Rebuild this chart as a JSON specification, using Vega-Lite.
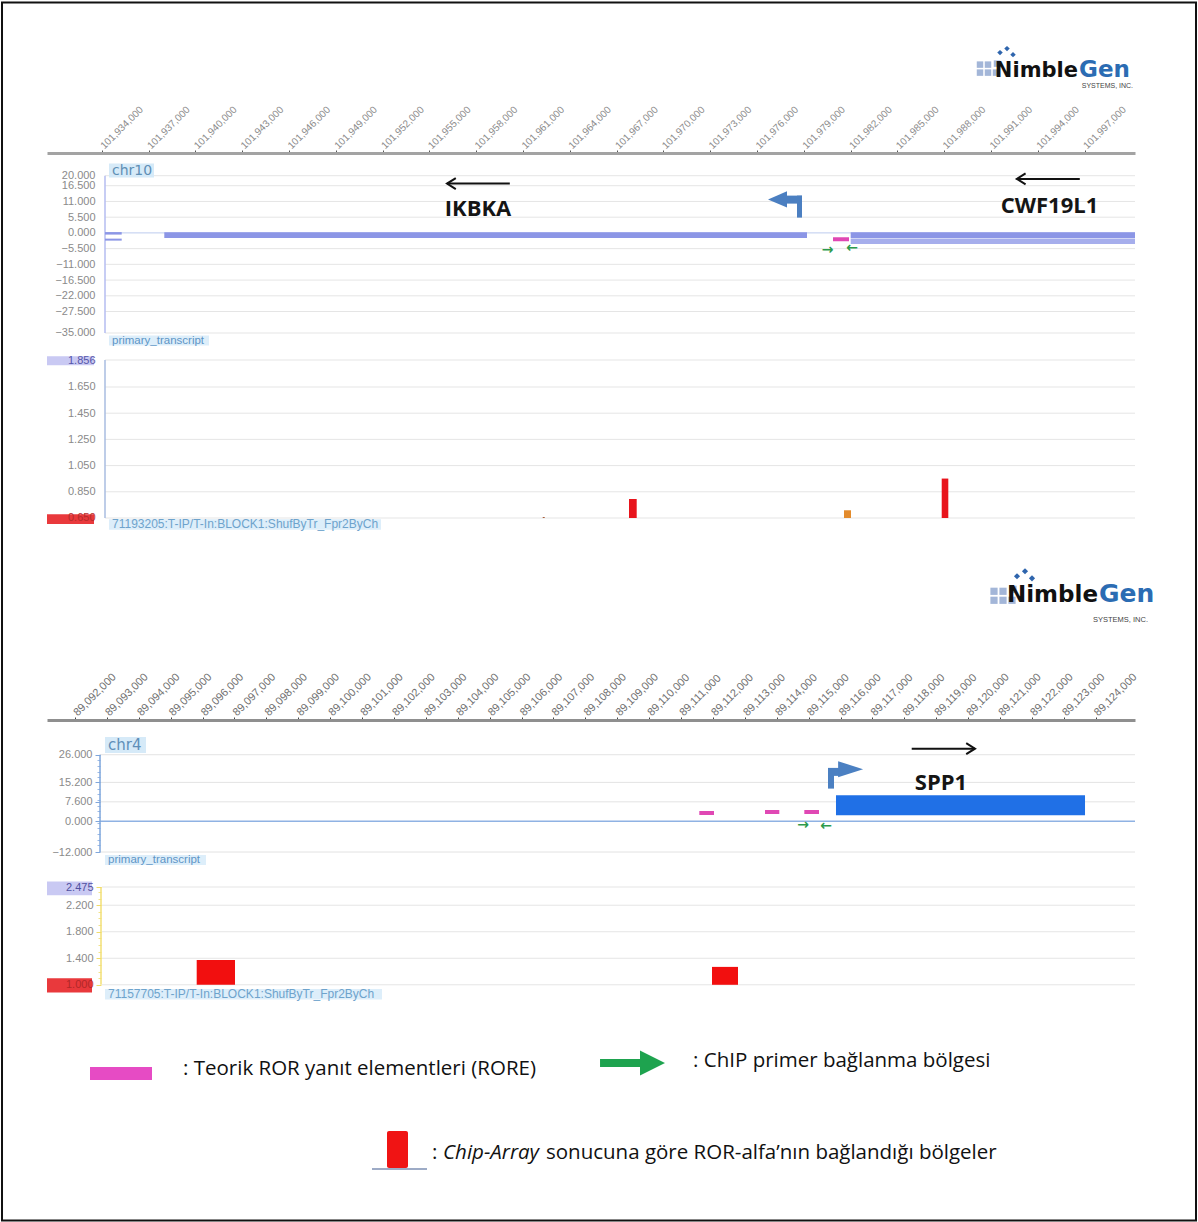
{
  "$schema": "https://vega.github.io/schema/vega-lite/v6.json",
  "padding": 1,
  "background": "white",
  "spacing": 0,
  "bounds": "flush",
  "data": {"values": [{}]},
  "config": {"view": {"stroke": null}, "axis": {"labelFont": "Liberation Sans", "labelOverlap": false}, "text": {"font": "Liberation Sans"}},
  "resolve": {"scale": {"x": "independent", "y": "independent", "color": "independent"}},
  "datasets": {
    "topGrid": [{"v": 20}, {"v": 16.5}, {"v": 11}, {"v": 5.5}, {"v": 0}, {"v": -5.5}, {"v": -11}, {"v": -16.5}, {"v": -22}, {"v": -27.5}, {"v": -35}],
    "topGenes": [
      {"feature": "exon a", "start": 101934205, "end": 101935276, "top": 0.28, "bottom": -0.59, "kind": "transcript"},
      {"feature": "exon b", "start": 101934205, "end": 101935276, "top": -2.0, "bottom": -2.7, "kind": "transcript"},
      {"feature": "IKBKA", "start": 101938006, "end": 101979203, "top": 0.21, "bottom": -1.75, "kind": "transcript"},
      {"feature": "CWF19L1", "start": 101982004, "end": 102000228, "top": 0.21, "bottom": -1.75, "kind": "transcript"},
      {"feature": "CWF19L1 b", "start": 101982004, "end": 102000228, "top": -1.95, "bottom": -3.85, "kind": "transcript2"},
      {"feature": "RORE", "start": 101980870, "end": 101981896, "top": -1.5, "bottom": -2.9, "kind": "RORE"}
    ],
    "topPrimers": [{"pos": 101980517, "v": -6.1, "dir": "→"}, {"pos": 101982088, "v": -5.4, "dir": "←"}],
    "topNames": [{"name": "IKBKA", "pos": 101958115, "v": 8.5}, {"name": "CWF19L1", "pos": 101994748, "v": 9.55}],
    "topDir": [{"gene": "IKBKA", "tip": 101956127, "tail": 101960153, "v": 17.24}, {"gene": "CWF19L1", "tip": 101992650, "tail": 101996689, "v": 18.88}],
    "logoTop": [
      {"g": 101990293, "v": 58.85, "part": "square"}, {"g": 101990805, "v": 58.85, "part": "square"},
      {"g": 101990293, "v": 56.05, "part": "square"}, {"g": 101990805, "v": 56.05, "part": "square"},
      {"g": 101991318, "v": 56.05, "part": "square"}, {"g": 101991382, "v": 59.2, "part": "square"},
      {"g": 101991575, "v": 63.04, "part": "dot"}, {"g": 101992023, "v": 64.44, "part": "dot"}, {"g": 101992408, "v": 62.34, "part": "dot"}
    ],
    "topSignalGrid": [{"v": 1.856}, {"v": 1.65}, {"v": 1.45}, {"v": 1.25}, {"v": 1.05}, {"v": 0.85}, {"v": 0.65}],
    "topSignal": [
      {"start": 101962262, "end": 101962390, "value": 0.657, "kind": "weak"},
      {"start": 101967794, "end": 101968287, "value": 0.795, "kind": "bound"},
      {"start": 101981575, "end": 101982024, "value": 0.709, "kind": "moderate"},
      {"start": 101987838, "end": 101988261, "value": 0.951, "kind": "bound"}
    ],
    "logoBot": [
      {"g": 101991190, "v": 0.0905, "part": "square"}, {"g": 101991767, "v": 0.0905, "part": "square"},
      {"g": 101991190, "v": 0.0218, "part": "square"}, {"g": 101991767, "v": 0.0218, "part": "square"},
      {"g": 101992344, "v": 0.0218, "part": "square"}, {"g": 101992408, "v": 0.1057, "part": "square"},
      {"g": 101992664, "v": 0.205, "part": "dot"}, {"g": 101993177, "v": 0.2435, "part": "dot"}, {"g": 101993626, "v": 0.1897, "part": "dot"}
    ],
    "botGrid": [{"v": 26}, {"v": 15.2}, {"v": 7.6}, {"v": 0}, {"v": -12}],
    "botGenes": [
      {"feature": "RORE 1", "start": 89111572, "end": 89112033, "top": 4.02, "bottom": 2.46, "kind": "RORE"},
      {"feature": "RORE 2", "start": 89113632, "end": 89114080, "top": 4.41, "bottom": 2.85, "kind": "RORE"},
      {"feature": "RORE 3", "start": 89114864, "end": 89115324, "top": 4.41, "bottom": 2.85, "kind": "RORE"},
      {"feature": "SPP1", "start": 89115857, "end": 89123664, "top": 10.16, "bottom": 2.34, "kind": "transcript"}
    ],
    "botPrimers": [{"pos": 89114823, "v": -1.56, "dir": "→"}, {"pos": 89115544, "v": -1.95, "dir": "←"}],
    "botNames": [{"name": "SPP1", "pos": 89119149, "v": 14.96}],
    "botDir": [{"gene": "SPP1", "tip": 89120215, "tail": 89118231, "v": 28.36}],
    "botSignalGrid": [{"v": 2.475}, {"v": 2.2}, {"v": 1.8}, {"v": 1.4}, {"v": 1.0}],
    "botSignal": [{"start": 89095815, "end": 89097016, "value": 1.373}, {"start": 89111970, "end": 89112785, "value": 1.27}]
  },
  "vconcat": [
    {
      "width": 1088,
      "height": 206.3,
      "layer": [
        {
          "data": {"name": "topGrid"},
          "mark": {"type": "rule"},
          "encoding": {
            "x": {"datum": 101934205, "type": "quantitative", "scale": {"domain": [101930487, 102000228], "nice": false, "zero": false},
              "axis": {"orient": "top", "tickCount": 200, "values": [101934000, 101937000, 101940000, 101943000, 101946000, 101949000, 101952000, 101955000, 101958000, 101961000, 101964000, 101967000, 101970000, 101973000, 101976000, 101979000, 101982000, 101985000, 101988000, 101991000, 101994000, 101997000],
                "format": ",d", "labelAngle": -45, "labelAlign": "left", "labelBaseline": "middle", "labelFontSize": 10, "labelColor": "#8c8c8c", "labelPadding": 3, "tickSize": 3, "tickColor": "#555555", "domainColor": "#a3a3a3", "domainWidth": 3, "grid": false, "title": null, "labelOverlap": false, "labelFlush": false, "labelBound": false}},
            "x2": {"datum": 102000228},
            "y": {"field": "v", "type": "quantitative", "scale": {"domain": [-44.2, 27.94], "nice": false, "zero": false},
              "axis": {"orient": "left", "offset": -58, "tickCount": 200, "values": [20, 16.5, 11, 5.5, 0, -5.5, -11, -16.5, -22, -27.5, -35], "format": ".3f", "domain": false, "ticks": false, "tickSize": 0, "labelPadding": 10, "labelFontSize": 11, "labelColor": "#8a8a8a", "grid": false, "title": null, "zindex": 1, "labelOverlap": false}},
            "color": {"condition": {"test": "datum.v === 0", "value": "#bccbee"}, "value": "#e5e5e5"}
          }
        },
        {"mark": {"type": "rule", "color": "#b5bcf0", "strokeWidth": 1.5}, "encoding": {"x": {"datum": 101934205}, "y": {"datum": 20}, "y2": {"datum": -35}}},
        {"mark": {"type": "rect", "color": "#d6eaf8"}, "encoding": {"x": {"datum": 101934462}, "x2": {"datum": 101937346}, "y": {"datum": 24.23}, "y2": {"datum": 19.34}}},
        {"mark": {"type": "text", "text": "chr10", "align": "left", "baseline": "middle", "font": "DejaVu Sans", "fontSize": 14, "color": "#5f8fb5"}, "encoding": {"x": {"datum": 101934654}, "y": {"datum": 21.78}}},
        {"mark": {"type": "rect", "color": "#ddeefa"}, "encoding": {"x": {"datum": 101934462}, "x2": {"datum": 101940872}, "y": {"datum": -35.91}, "y2": {"datum": -39.41}}},
        {"mark": {"type": "text", "text": "primary_transcript", "align": "left", "baseline": "middle", "fontSize": 11.5, "color": "#5d95c6"}, "encoding": {"x": {"datum": 101934654}, "y": {"datum": -37.66}}},
        {
          "data": {"name": "topGenes"},
          "mark": {"type": "rect"},
          "encoding": {
            "x": {"field": "start", "type": "quantitative"}, "x2": {"field": "end"},
            "y": {"field": "top", "type": "quantitative"}, "y2": {"field": "bottom"},
            "color": {"field": "kind", "type": "nominal", "scale": {"domain": ["transcript", "transcript2", "RORE"], "range": ["#8c96e6", "#a6aeec", "#e048b4"]}, "legend": null}
          }
        },
        {
          "data": {"name": "topPrimers"},
          "mark": {"type": "text", "font": "DejaVu Sans", "fontSize": 14, "fontWeight": "bold", "color": "#2c9a4c", "align": "center", "baseline": "middle"},
          "encoding": {"x": {"field": "pos", "type": "quantitative"}, "y": {"field": "v", "type": "quantitative"}, "text": {"field": "dir"}}
        },
        {"mark": {"type": "rule", "color": "#4b7fc1", "strokeWidth": 8}, "encoding": {"x": {"datum": 101977793}, "x2": {"datum": 101978883}, "y": {"datum": 11.64}}},
        {"mark": {"type": "rule", "color": "#4b7fc1", "strokeWidth": 5}, "encoding": {"x": {"datum": 101978723}, "y": {"datum": 13.04}, "y2": {"datum": 5.35}}},
        {"mark": {"type": "point", "shape": "M1,-0.85L-1,0L1,0.85Z", "size": 361, "filled": true, "opacity": 1, "color": "#4b7fc1"}, "encoding": {"x": {"datum": 101977312}, "y": {"datum": 11.7}}},
        {
          "data": {"name": "topNames"},
          "mark": {"type": "text", "font": "Open Sans", "fontSize": 22, "fontWeight": "bold", "color": "#151515", "align": "center", "baseline": "middle"},
          "encoding": {"x": {"field": "pos", "type": "quantitative"}, "y": {"field": "v", "type": "quantitative"}, "text": {"field": "name"}}
        },
        {
          "data": {"name": "topDir"},
          "mark": {"type": "rule", "strokeWidth": 2, "color": "#111111"},
          "encoding": {"x": {"field": "tip", "type": "quantitative"}, "x2": {"field": "tail"}, "y": {"field": "v", "type": "quantitative"}}
        },
        {
          "data": {"name": "topDir"},
          "mark": {"type": "point", "shape": "M1.6,-1L0,0L1.6,1", "size": 121, "filled": false, "strokeWidth": 2, "color": "#111111", "opacity": 1},
          "encoding": {"x": {"field": "tip", "type": "quantitative"}, "y": {"field": "v", "type": "quantitative"}}
        },
        {
          "data": {"name": "logoTop"},
          "transform": [{"filter": "datum.part === 'square'"}],
          "mark": {"type": "point", "shape": "square", "size": 42, "filled": true, "opacity": 1, "color": "#a3b6d8"},
          "encoding": {"x": {"field": "g", "type": "quantitative"}, "y": {"field": "v", "type": "quantitative"}}
        },
        {
          "data": {"name": "logoTop"},
          "transform": [{"filter": "datum.part === 'dot'"}],
          "mark": {"type": "point", "shape": "diamond", "size": 30, "filled": true, "opacity": 1, "color": "#2f65ad"},
          "encoding": {"x": {"field": "g", "type": "quantitative"}, "y": {"field": "v", "type": "quantitative"}}
        },
        {"mark": {"type": "text", "text": "Nimble", "align": "right", "baseline": "alphabetic", "font": "DejaVu Sans", "fontWeight": "bold", "fontSize": 21, "color": "#111111"}, "encoding": {"x": {"datum": 101996575}, "y": {"datum": 54.65}}},
        {"mark": {"type": "text", "text": "Gen", "align": "left", "baseline": "alphabetic", "font": "DejaVu Sans", "fontWeight": "bold", "fontSize": 23, "color": "#2b6cb3"}, "encoding": {"x": {"datum": 101996639}, "y": {"datum": 54.65}}},
        {"mark": {"type": "text", "text": "SYSTEMS, INC.", "align": "right", "baseline": "middle", "fontSize": 7, "color": "#444444"}, "encoding": {"x": {"datum": 102000104}, "y": {"datum": 51.5}}},
        {"mark": {"type": "rect", "filled": false, "stroke": "#111111", "strokeWidth": 2}, "encoding": {"x": {"datum": 101927603}, "x2": {"datum": 102004138}, "y": {"datum": 80.53}, "y2": {"datum": -345.39}}}
      ]
    },
    {
      "width": 1088,
      "height": 359.3,
      "layer": [
        {
          "data": {"name": "topSignalGrid"},
          "mark": {"type": "rule", "color": "#e5e5e5"},
          "encoding": {
            "x": {"datum": 101934205, "type": "quantitative", "scale": {"domain": [101930487, 102000228], "nice": false, "zero": false}, "axis": null},
            "x2": {"datum": 102000228},
            "y": {"field": "v", "type": "quantitative", "scale": {"domain": [-0.8866, 1.856], "nice": false, "zero": false},
              "axis": {"orient": "left", "offset": -58, "tickCount": 200, "values": [1.856, 1.65, 1.45, 1.25, 1.05, 0.85, 0.65], "format": ".3f", "domain": false, "ticks": false, "tickSize": 0, "labelPadding": 10, "labelFontSize": 11,
                "labelColor": {"condition": [{"test": "datum.value === 1.856", "value": "#5656a8"}, {"test": "datum.value === 0.65", "value": "#b52a2a"}], "value": "#8a8a8a"},
                "grid": false, "title": null, "zindex": 1, "labelOverlap": false}}
          }
        },
        {"mark": {"type": "rule", "color": "#a9bde0", "strokeWidth": 1.5}, "encoding": {"x": {"datum": 101934205}, "y": {"datum": 1.856}, "y2": {"datum": 0.65}}},
        {"mark": {"type": "rect", "color": "#c9c9f3"}, "encoding": {"x": {"datum": 101930487}, "x2": {"datum": 101933500}, "y": {"datum": 1.884}, "y2": {"datum": 1.8157}}},
        {"mark": {"type": "rect", "color": "#e9393c"}, "encoding": {"x": {"datum": 101930487}, "x2": {"datum": 101933500}, "y": {"datum": 0.678}, "y2": {"datum": 0.604}}},
        {
          "data": {"name": "topSignal"},
          "mark": {"type": "rect"},
          "encoding": {
            "x": {"field": "start", "type": "quantitative"}, "x2": {"field": "end"},
            "y": {"field": "value", "type": "quantitative"}, "y2": {"datum": 0.65},
            "color": {"field": "kind", "type": "nominal", "scale": {"domain": ["bound", "moderate", "weak"], "range": ["#e8141c", "#e38b2c", "#a0522d"]}, "legend": null}
          }
        },
        {"mark": {"type": "rect", "color": "#ddeefa"}, "encoding": {"x": {"datum": 101934462}, "x2": {"datum": 101951897}, "y": {"datum": 0.64}, "y2": {"datum": 0.56}}},
        {"mark": {"type": "text", "text": "71193205:T-IP/T-In:BLOCK1:ShufByTr_Fpr2ByCh", "align": "left", "baseline": "middle", "fontSize": 12, "color": "#6ea3cc"}, "encoding": {"x": {"datum": 101934654}, "y": {"datum": 0.602}}},
        {
          "data": {"name": "logoBot"},
          "transform": [{"filter": "datum.part === 'square'"}],
          "mark": {"type": "point", "shape": "square", "size": 52, "filled": true, "opacity": 1, "color": "#a3b6d8"},
          "encoding": {"x": {"field": "g", "type": "quantitative"}, "y": {"field": "v", "type": "quantitative"}}
        },
        {
          "data": {"name": "logoBot"},
          "transform": [{"filter": "datum.part === 'dot'"}],
          "mark": {"type": "point", "shape": "diamond", "size": 38, "filled": true, "opacity": 1, "color": "#2f65ad"},
          "encoding": {"x": {"field": "g", "type": "quantitative"}, "y": {"field": "v", "type": "quantitative"}}
        },
        {"mark": {"type": "text", "text": "Nimble", "align": "right", "baseline": "alphabetic", "font": "DejaVu Sans", "fontWeight": "bold", "fontSize": 23, "color": "#111111"}, "encoding": {"x": {"datum": 101997856}, "y": {"datum": 0.0088}}},
        {"mark": {"type": "text", "text": "Gen", "align": "left", "baseline": "alphabetic", "font": "DejaVu Sans", "fontWeight": "bold", "fontSize": 25, "color": "#2b6cb3"}, "encoding": {"x": {"datum": 101997920}, "y": {"datum": 0.0088}}},
        {"mark": {"type": "text", "text": "SYSTEMS, INC.", "align": "right", "baseline": "middle", "fontSize": 7.5, "color": "#444444"}, "encoding": {"x": {"datum": 102001060}, "y": {"datum": -0.131}}}
      ]
    },
    {
      "width": 1088,
      "height": 166.5,
      "resolve": {"axis": {"y": "independent"}},
      "layer": [
        {
          "data": {"name": "botGrid"},
          "mark": {"type": "rule"},
          "encoding": {
            "x": {"datum": 89092784, "type": "quantitative", "scale": {"domain": [89091122, 89125231], "nice": false, "zero": false},
              "axis": {"orient": "top", "tickCount": 200, "values": [89092000, 89093000, 89094000, 89095000, 89096000, 89097000, 89098000, 89099000, 89100000, 89101000, 89102000, 89103000, 89104000, 89105000, 89106000, 89107000, 89108000, 89109000, 89110000, 89111000, 89112000, 89113000, 89114000, 89115000, 89116000, 89117000, 89118000, 89119000, 89120000, 89121000, 89122000, 89123000, 89124000],
                "format": ",d", "labelAngle": -45, "labelAlign": "left", "labelBaseline": "middle", "labelFontSize": 11, "labelColor": "#707070", "labelPadding": 3, "tickSize": 3, "tickColor": "#444444", "domainColor": "#8f8f8f", "domainWidth": 3, "grid": false, "title": null, "labelOverlap": false, "labelFlush": false, "labelBound": false}},
            "x2": {"datum": 89125231},
            "y": {"field": "v", "type": "quantitative", "scale": {"domain": [-25.47, 39.57], "nice": false, "zero": false},
              "axis": {"orient": "left", "offset": -53, "tickCount": 200, "values": [26, 15.2, 7.6, 0, -12], "format": ".3f", "domain": false, "ticks": true, "tickSize": 5, "tickColor": "#7ea6dc", "labelPadding": 3, "labelFontSize": 11, "labelColor": "#8a8a8a", "grid": false, "title": null, "zindex": 1, "labelOverlap": false}},
            "color": {"condition": {"test": "datum.v === 0", "value": "#8fb2e3"}, "value": "#e3e3e3"},
            "strokeWidth": {"condition": {"test": "datum.v === 0", "value": 1.6}, "value": 1}
          }
        },
        {
          "mark": {"type": "rule", "opacity": 0},
          "encoding": {"y": {"datum": 0, "type": "quantitative",
            "axis": {"orient": "left", "offset": -53, "tickCount": 200, "values": [23.79, 21.57, 19.36, 17.14, 12.71, 10.5, 8.28, 6.07, 3.85, 1.64, -0.58, -2.8, -5.01, -7.23, -9.44], "labels": false, "domain": false, "ticks": true, "tickSize": 3, "tickColor": "#9dbbe6", "grid": false, "title": null}}}
        },
        {"mark": {"type": "rule", "color": "#7ea6dc", "strokeWidth": 1.5}, "encoding": {"x": {"datum": 89092784}, "y": {"datum": 26, "axis": null}, "y2": {"datum": -12}}},
        {"mark": {"type": "rect", "color": "#d6eaf8"}, "encoding": {"x": {"datum": 89092941}, "x2": {"datum": 89094226}, "y": {"datum": 32.93, "axis": null}, "y2": {"datum": 26.68}}},
        {"mark": {"type": "text", "text": "chr4", "align": "left", "baseline": "middle", "font": "DejaVu Sans", "fontSize": 15, "color": "#5f8fb8"}, "encoding": {"x": {"datum": 89093035}, "y": {"datum": 29.8, "axis": null}}},
        {"mark": {"type": "rect", "color": "#ddeefa"}, "encoding": {"x": {"datum": 89092941}, "x2": {"datum": 89096107}, "y": {"datum": -13.2, "axis": null}, "y2": {"datum": -17.1}}},
        {"mark": {"type": "text", "text": "primary_transcript", "align": "left", "baseline": "middle", "fontSize": 11.5, "color": "#5d95c6"}, "encoding": {"x": {"datum": 89093035}, "y": {"datum": -15.12, "axis": null}}},
        {
          "data": {"name": "botGenes"},
          "mark": {"type": "rect"},
          "encoding": {
            "x": {"field": "start", "type": "quantitative"}, "x2": {"field": "end"},
            "y": {"field": "top", "type": "quantitative", "axis": null}, "y2": {"field": "bottom"},
            "color": {"field": "kind", "type": "nominal", "scale": {"domain": ["transcript", "RORE"], "range": ["#2070e6", "#e048b4"]}, "legend": null}
          }
        },
        {
          "data": {"name": "botPrimers"},
          "mark": {"type": "text", "font": "DejaVu Sans", "fontSize": 14, "fontWeight": "bold", "color": "#2c9a4c", "align": "center", "baseline": "middle"},
          "encoding": {"x": {"field": "pos", "type": "quantitative"}, "y": {"field": "v", "type": "quantitative", "axis": null}, "text": {"field": "dir"}}
        },
        {"mark": {"type": "rule", "color": "#4b80c2", "strokeWidth": 8}, "encoding": {"x": {"datum": 89115607}, "x2": {"datum": 89115982}, "y": {"datum": 19.3, "axis": null}}},
        {"mark": {"type": "rule", "color": "#4b80c2", "strokeWidth": 6}, "encoding": {"x": {"datum": 89115701}, "y": {"datum": 20.8, "axis": null}, "y2": {"datum": 12.77}}},
        {"mark": {"type": "point", "shape": "M-1,-0.64L1,0L-1,0.64Z", "size": 625, "filled": true, "opacity": 1, "color": "#4b80c2"}, "encoding": {"x": {"datum": 89116315}, "y": {"datum": 20.35, "axis": null}}},
        {
          "data": {"name": "botNames"},
          "mark": {"type": "text", "font": "Open Sans", "fontSize": 22, "fontWeight": "bold", "color": "#151515", "align": "center", "baseline": "middle"},
          "encoding": {"x": {"field": "pos", "type": "quantitative"}, "y": {"field": "v", "type": "quantitative", "axis": null}, "text": {"field": "name"}}
        },
        {
          "data": {"name": "botDir"},
          "mark": {"type": "rule", "strokeWidth": 2, "color": "#111111"},
          "encoding": {"x": {"field": "tip", "type": "quantitative"}, "x2": {"field": "tail"}, "y": {"field": "v", "type": "quantitative", "axis": null}}
        },
        {
          "data": {"name": "botDir"},
          "mark": {"type": "point", "shape": "M-1.6,-1L0,0L-1.6,1", "size": 121, "filled": false, "strokeWidth": 2, "color": "#111111", "opacity": 1},
          "encoding": {"x": {"field": "tip", "type": "quantitative"}, "y": {"field": "v", "type": "quantitative", "axis": null}}
        }
      ]
    },
    {
      "width": 1088,
      "height": 145.5,
      "resolve": {"axis": {"y": "independent"}},
      "layer": [
        {
          "data": {"name": "botSignalGrid"},
          "mark": {"type": "rule", "color": "#e5e5e5"},
          "encoding": {
            "x": {"datum": 89092847, "type": "quantitative", "scale": {"domain": [89091122, 89125231], "nice": false, "zero": false}, "axis": null},
            "x2": {"datum": 89125231},
            "y": {"field": "v", "type": "quantitative", "scale": {"domain": [0.2805, 2.475], "nice": false, "zero": false},
              "axis": {"orient": "left", "offset": -54, "tickCount": 200, "values": [2.475, 2.2, 1.8, 1.4, 1.0], "format": ".3f", "domain": false, "ticks": true, "tickSize": 5, "tickColor": "#f0dc6a", "labelPadding": 3, "labelFontSize": 11,
                "labelColor": {"condition": [{"test": "datum.value === 2.475", "value": "#5050a0"}, {"test": "datum.value === 1", "value": "#b02828"}], "value": "#8a8a8a"},
                "grid": false, "title": null, "zindex": 1, "labelOverlap": false}}
          }
        },
        {
          "mark": {"type": "rule", "opacity": 0},
          "encoding": {"y": {"datum": 1.5, "type": "quantitative",
            "axis": {"orient": "left", "offset": -54, "tickCount": 200, "values": [1.1, 1.2, 1.3, 1.5, 1.6, 1.7, 1.9, 2.0, 2.1, 2.3, 2.4], "labels": false, "domain": false, "ticks": true, "tickSize": 3, "tickColor": "#f2e38a", "grid": false, "title": null}}}
        },
        {"mark": {"type": "rule", "color": "#f2df74", "strokeWidth": 1.5}, "encoding": {"x": {"datum": 89092815}, "y": {"datum": 2.475, "axis": null}, "y2": {"datum": 1.0}}},
        {"mark": {"type": "rect", "color": "#c9c9f3"}, "encoding": {"x": {"datum": 89091122}, "x2": {"datum": 89092533}, "y": {"datum": 2.558, "axis": null}, "y2": {"datum": 2.351}}},
        {"mark": {"type": "rect", "color": "#e9393c"}, "encoding": {"x": {"datum": 89091122}, "x2": {"datum": 89092533}, "y": {"datum": 1.0995, "axis": null}, "y2": {"datum": 0.884}}},
        {
          "data": {"name": "botSignal"},
          "mark": {"type": "rect", "color": "#f20f0f"},
          "encoding": {"x": {"field": "start", "type": "quantitative"}, "x2": {"field": "end"}, "y": {"field": "value", "type": "quantitative", "axis": null}, "y2": {"datum": 1.0}}
        },
        {"mark": {"type": "rect", "color": "#ddeefa"}, "encoding": {"x": {"datum": 89092941}, "x2": {"datum": 89101624}, "y": {"datum": 0.937, "axis": null}, "y2": {"datum": 0.778}}},
        {"mark": {"type": "text", "text": "71157705:T-IP/T-In:BLOCK1:ShufByTr_Fpr2ByCh", "align": "left", "baseline": "middle", "fontSize": 12, "color": "#6ea3cc"}, "encoding": {"x": {"datum": 89093035}, "y": {"datum": 0.858, "axis": null}}}
      ]
    },
    {
      "width": 1088,
      "height": 160,
      "layer": [
        {"mark": {"type": "rect", "color": "#e64bc4"}, "encoding": {"x": {"datum": 3.952, "type": "quantitative", "scale": {"domain": [0, 100], "nice": false, "zero": false}, "axis": null}, "x2": {"datum": 9.651}, "y": {"datum": 21.25, "type": "quantitative", "scale": {"domain": [0, 100], "nice": false, "zero": false, "reverse": true}, "axis": null}, "y2": {"datum": 29.375}}},
        {"mark": {"type": "text", "text": ": Teorik ROR yanıt elementleri (RORE)", "align": "left", "baseline": "middle", "font": "Open Sans", "fontSize": 20.5, "color": "#111111"}, "encoding": {"x": {"datum": 12.5}, "y": {"datum": 22.5}}},
        {"mark": {"type": "rule", "color": "#1ea34f", "strokeWidth": 8}, "encoding": {"x": {"datum": 50.83}, "x2": {"datum": 54.69}, "y": {"datum": 18.75}}},
        {"mark": {"type": "point", "shape": "M-1,-1L1,0L-1,1Z", "size": 625, "filled": true, "opacity": 1, "color": "#1ea34f"}, "encoding": {"x": {"datum": 55.65}, "y": {"datum": 18.75}}},
        {"mark": {"type": "text", "text": ": ChIP primer bağlanma bölgesi", "align": "left", "baseline": "middle", "font": "Open Sans", "fontSize": 20.5, "color": "#111111"}, "encoding": {"x": {"datum": 59.38}, "y": {"datum": 17.5}}},
        {"mark": {"type": "rect", "color": "#f01414", "cornerRadius": 2}, "encoding": {"x": {"datum": 31.25}, "x2": {"datum": 33.18}, "y": {"datum": 61.25}, "y2": {"datum": 84.375}}},
        {"mark": {"type": "rule", "color": "#7d8fb3", "strokeWidth": 1.5}, "encoding": {"x": {"datum": 29.87}, "x2": {"datum": 34.93}, "y": {"datum": 85}}},
        {"mark": {"type": "text", "text": ":", "align": "left", "baseline": "middle", "font": "Open Sans", "fontSize": 20.5, "color": "#111111"}, "encoding": {"x": {"datum": 35.39}, "y": {"datum": 75}}},
        {"mark": {"type": "text", "text": "Chip-Array", "align": "left", "baseline": "middle", "font": "Open Sans", "fontStyle": "italic", "fontSize": 20.5, "color": "#111111"}, "encoding": {"x": {"datum": 36.4}, "y": {"datum": 75}}},
        {"mark": {"type": "text", "text": "sonucuna göre ROR-alfa’nın bağlandığı bölgeler", "align": "left", "baseline": "middle", "font": "Open Sans", "fontSize": 20.5, "color": "#111111"}, "encoding": {"x": {"datum": 45.86}, "y": {"datum": 75}}}
      ]
    }
  ]
}
